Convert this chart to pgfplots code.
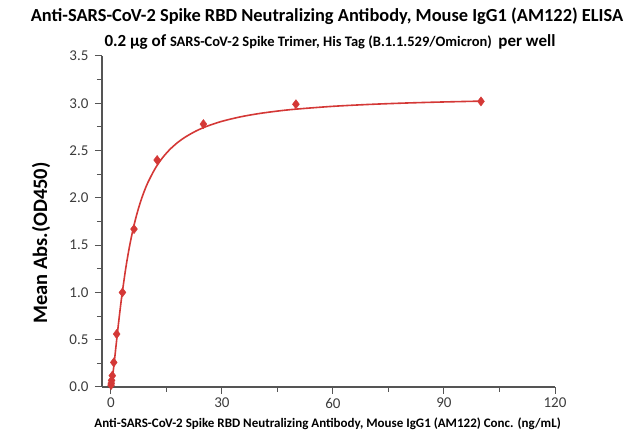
\documentclass[border=0pt]{standalone}
\usepackage{pgfplots}
\pgfplotsset{compat=1.18}
\usepackage{fontspec}
\setmainfont{Carlito}
\definecolor{curvered}{RGB}{212,56,54}
\definecolor{axgray}{RGB}{85,85,85}
\definecolor{txt}{RGB}{60,60,60}
\begin{document}
\begin{tikzpicture}
\path[use as bounding box] (-102pt,-52pt) rectangle (528pt,387pt);
\begin{axis}[
  at={(0pt,0pt)}, anchor=south west,
  scale only axis, width=453pt, height=331pt,
  xmin=-2.4, xmax=120, ymin=0, ymax=3.5,
  axis x line*=bottom, axis y line*=left,
  axis line style={axgray, line width=1.1pt, -},
  xtick={0,30,60,90,120}, ytick={0,0.5,...,3.5},
  minor x tick num=1, minor y tick num=1,
  tick align=outside,
  major tick length=7pt, minor tick length=5pt,
  every tick/.style={axgray, line width=1pt},
  /pgf/number format/assume math mode=true,
  tick label style={font=\fontsize{15}{17}\selectfont, text=txt},
  xticklabel style={yshift=-3pt, inner sep=1pt},
  yticklabel style={xshift=-3pt, /pgf/number format/fixed, /pgf/number format/fixed zerofill, /pgf/number format/precision=1},
  xlabel={\textbf{Anti-SARS-CoV-2 Spike RBD Neutralizing Antibody, Mouse IgG1 (AM122) Conc. (ng/mL)}},
  ylabel={\textbf{Mean Abs.(OD450)}},
  every axis x label/.style={at={(axis description cs:0.498,0)}, anchor=center, yshift=-37pt, inner sep=1pt, font=\fontsize{13}{15}\selectfont, text=black},
  every axis y label/.style={at={(axis description cs:0,0.435)}, anchor=center, rotate=90, yshift=61pt, font=\fontsize{20.5}{24}\selectfont, text=black},
  clip=false,
]
\addplot[curvered, line width=1.6pt, smooth, no marks] coordinates {
(0,0) (0.1,0.0144) (0.25,0.0491) (0.5,0.1222) (0.75,0.2053) (1,0.2934)
(1.5,0.4743) (2,0.6515) (2.5,0.8197) (3,0.9759) (4,1.2510) (5,1.4796)
(6,1.6688) (7,1.8258) (8,1.9573) (9,2.0681) (10,2.1623) (12,2.3126)
(14,2.4263) (16,2.5142) (18,2.5840) (20,2.6404) (23,2.7069) (26,2.7578)
(30,2.8094) (35,2.8566) (40,2.8912) (45,2.9175) (50,2.9380) (60,2.9679)
(70,2.9883) (80,3.0031) (90,3.0141) (100,3.0228)
};
\addplot[only marks, mark=diamond*, mark size=4.6pt, curvered, mark options={fill=curvered, draw=curvered}] coordinates {
(0.049,0.02) (0.098,0.04) (0.195,0.07) (0.39,0.12) (0.78,0.26) (1.5625,0.56)
(3.125,1.00) (6.25,1.67) (12.5,2.40) (25,2.78) (50,2.99) (100,3.02)
};
\end{axis}
\node[font=\fontsize{18.4}{22}\selectfont\bfseries, text=black] at (225pt,371pt) {Anti-SARS-CoV-2 Spike RBD Neutralizing Antibody, Mouse IgG1 (AM122) ELISA};
\node[text=black] at (228pt,345pt) {{\fontsize{17}{20}\selectfont\bfseries 0.2 μg of }{\fontsize{14.5}{17}\selectfont\bfseries SARS-CoV-2 Spike Trimer, His Tag (B.1.1.529/Omicron)\ \ }{\fontsize{17}{20}\selectfont\bfseries per well}};
\end{tikzpicture}
\end{document}
